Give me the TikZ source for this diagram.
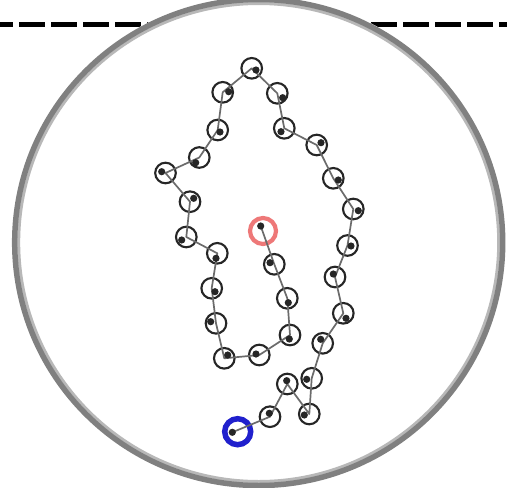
\documentclass[tikz,border=0pt]{standalone}
\definecolor{ringred}{RGB}{238,120,120}
\definecolor{ringblue}{RGB}{32,32,205}
\begin{document}
\begin{tikzpicture}[x=1pt,y=-1pt,
  cell/.style={circle,draw=black!85,line width=2.1pt,minimum size=20.6pt,inner sep=0pt},
  startring/.style={circle,draw=ringred,line width=4.2pt,minimum size=26pt,inner sep=0pt},
  endring/.style={circle,draw=ringblue,line width=5.5pt,minimum size=26pt,inner sep=0pt},
  spot/.style={circle,inner sep=0pt,minimum size=1pt},
  track/.style={draw=black!58,line width=1.7pt,line join=round}]
\useasboundingbox (0,0) rectangle (507,488);
\clip (0,0) rectangle (507,488);
\fill[white] (0,0) rectangle (507,488);
% dashed line behind the dish
\draw[line width=4.5pt,dash pattern=on 26pt off 6pt] (-13,24.5) -- (520,24.5);
% dish
\fill[white] (258.7,242.5) ellipse [x radius=247,y radius=246];
\draw[black!28,line width=3pt] (258.7,242.5) ellipse [x radius=240,y radius=239];
\draw[black!50,line width=5.5pt] (258.7,242.5) ellipse [x radius=244,y radius=243];
% cells: center / dot
\foreach \i/\cx/\cy/\dx/\dy in {
 2/270/416.7/269.3/413.3,
 3/287.3/384/286.7/380.7,
 4/309.3/414/304.3/415,
 5/311.7/378.3/306.7/379.3,
 6/322.7/343.3/320.7/339.3,
 7/343.3/313.3/346/318.3,
 8/335/277/333.3/274,
 9/347.5/245.5/351/246,
 10/353.3/209/358.3/210.7,
 11/333.3/178.3/338.3/180,
 12/316.7/145/321/142.7,
 13/284.3/128.3/281/131.7,
 14/277.3/93.3/282.7/97.7,
 15/251.7/68.3/256/70,
 16/222.7/92.3/228.7/91.7,
 17/217.7/130/220/132,
 18/199.3/157.5/195.7/162.7,
 19/165.5/173/161.7/171.7,
 20/190/201.7/193.7/198.3,
 21/186.3/237/181.7/240,
 22/217.3/253.3/216/258.3,
 23/211.7/288.3/215/291.7,
 24/216/323.3/210.7/321.7,
 25/224.3/358.3/227.7/355,
 26/259.3/355/256/354,
 27/290/335/289.3/339,
 28/287.3/298.3/288.3/302.7,
 29/274.3/264.3/270/262.7}{
  \node[cell] (c\i) at (\cx,\cy) {};
  \node[spot] (d\i) at (\dx,\dy) {};
}
\node[endring] (c1) at (237.7,431.7) {};
\node[spot] (d1) at (232.3,432.3) {};
\node[startring] (c30) at (263,231) {};
\node[spot] (d30) at (260.7,226) {};
% track
\draw[track] (d1.center)
  \foreach \j in {2,...,29}{ -- (c\j.center)} -- (d30.center);
\foreach \k in {1,...,30}{\fill[black!85] (d\k.center) circle (3.6pt);}
\end{tikzpicture}
\end{document}
